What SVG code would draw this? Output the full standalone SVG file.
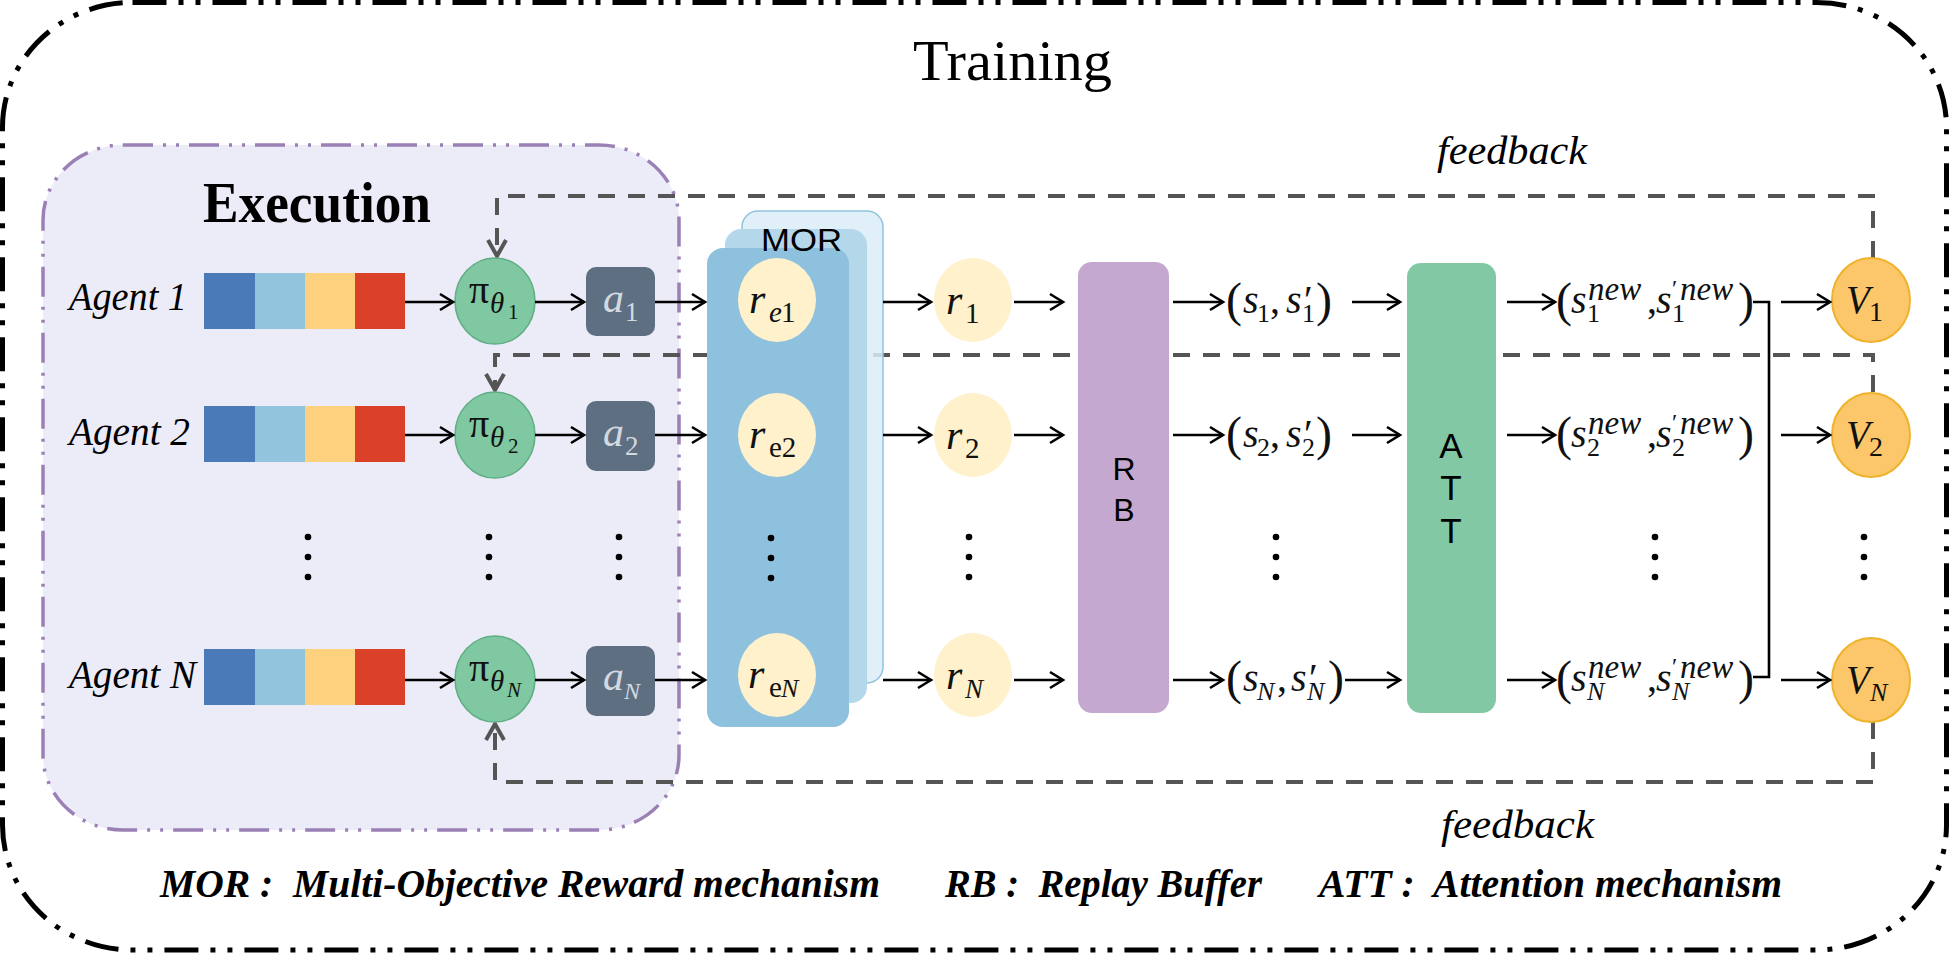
<svg xmlns="http://www.w3.org/2000/svg" width="1949" height="953" viewBox="0 0 1949 953">
<style>
.serif{font-family:"Liberation Serif","Times New Roman",serif;}
.sans{font-family:"Liberation Sans",Arial,sans-serif;}
.it{font-style:italic;}
.up{font-style:normal;}
.bi{font-style:italic;font-weight:bold;}
.m{font-family:"Liberation Serif","Times New Roman",serif;fill:#111;}
.ar{fill:none;stroke:#000;stroke-width:2.6;marker-end:url(#ah);}
.fb{fill:none;stroke:#555;stroke-width:4;stroke-dasharray:17 13;marker-end:url(#gh);}
.dot{fill:#000;}
</style>
<defs>
<marker id="ah" viewBox="-16 -10 20 20" refX="0" refY="0" markerWidth="20" markerHeight="20" markerUnits="userSpaceOnUse" orient="auto">
<path d="M-13,-8 L0,0 L-13,8" fill="none" stroke="#000" stroke-width="2.6"/>
</marker>
<marker id="gh" viewBox="-20 -12 24 24" refX="0" refY="0" markerWidth="24" markerHeight="24" markerUnits="userSpaceOnUse" orient="auto">
<path d="M-16,-9 L0,0 L-16,9" fill="none" stroke="#555" stroke-width="4"/>
</marker>
</defs>
<rect width="1949" height="953" fill="#fff"/>

<g id="training">
<rect x="2.5" y="2.5" width="1944" height="947.5" rx="130" ry="125" fill="none" stroke="#000" stroke-width="5" stroke-dasharray="34 12 5 12 5 12"/>
<text x="913" y="80" class="serif" font-size="57" textLength="199" lengthAdjust="spacingAndGlyphs">Training</text>
</g>

<g id="execution">
<rect x="43" y="145" width="636" height="685" rx="80" ry="75" fill="#ECEBF8" stroke="#9B80B6" stroke-width="3.5" stroke-dasharray="30 10 3 10 3 10"/>
<text x="203" y="222" class="serif" font-weight="bold" font-size="57" textLength="228" lengthAdjust="spacingAndGlyphs">Execution</text>
</g>

<g id="feedback-lines">
<path class="fb" d="M1873,258 V196 H497 V256"/>
<path class="fb" d="M1873,392 V355 H495 V390"/>
<path class="fb" d="M1873,722 V782 H495 V724"/>
<text x="1437" y="164" class="serif it" font-size="40" textLength="150" lengthAdjust="spacingAndGlyphs">feedback</text>
<text x="1441" y="838" class="serif it" font-size="40" textLength="153" lengthAdjust="spacingAndGlyphs">feedback</text>
</g>

<g id="agents">
<text x="69" y="310" class="serif it" font-size="39" textLength="118" lengthAdjust="spacingAndGlyphs">Agent 1</text>
<text x="69" y="445" class="serif it" font-size="39" textLength="121" lengthAdjust="spacingAndGlyphs">Agent 2</text>
<text x="69" y="688" class="serif it" font-size="39" textLength="127" lengthAdjust="spacingAndGlyphs">Agent N</text>
</g>

<g id="obs-1">
<rect x="204" y="273" width="51" height="56" fill="#4A7AB7"/><rect x="255" y="273" width="50" height="56" fill="#92C4DE"/><rect x="305" y="273" width="50" height="56" fill="#FDD17E"/><rect x="355" y="273" width="50" height="56" fill="#DB4128"/>
</g>
<g id="obs-2">
<rect x="204" y="406" width="51" height="56" fill="#4A7AB7"/><rect x="255" y="406" width="50" height="56" fill="#92C4DE"/><rect x="305" y="406" width="50" height="56" fill="#FDD17E"/><rect x="355" y="406" width="50" height="56" fill="#DB4128"/>
</g>
<g id="obs-N">
<rect x="204" y="649" width="51" height="56" fill="#4A7AB7"/><rect x="255" y="649" width="50" height="56" fill="#92C4DE"/><rect x="305" y="649" width="50" height="56" fill="#FDD17E"/><rect x="355" y="649" width="50" height="56" fill="#DB4128"/>
</g>

<g id="pi-1">
<ellipse cx="495" cy="301" rx="40" ry="43" fill="#80C8A1" stroke="#5FAE85" stroke-width="1.5"/>
<text class="m" font-size="40" x="469" y="303">π<tspan class="it" font-size="29" x="490" y="313">θ</tspan><tspan font-size="21" x="508" y="319">1</tspan></text>
</g>
<g id="pi-2">
<ellipse cx="495" cy="435" rx="40" ry="43" fill="#80C8A1" stroke="#5FAE85" stroke-width="1.5"/>
<text class="m" font-size="40" x="469" y="437">π<tspan class="it" font-size="29" x="490" y="447">θ</tspan><tspan font-size="21" x="508" y="453">2</tspan></text>
</g>
<g id="pi-N">
<ellipse cx="495" cy="679" rx="40" ry="43" fill="#80C8A1" stroke="#5FAE85" stroke-width="1.5"/>
<text class="m" font-size="40" x="469" y="681">π<tspan class="it" font-size="29" x="490" y="691">θ</tspan><tspan class="it" font-size="21" x="507" y="697">N</tspan></text>
</g>

<g id="a-1">
<rect x="586" y="267" width="69" height="69" rx="10" fill="#5E6F82"/>
<text class="m it" font-size="42" x="603" y="312" style="fill:#D3D9E0">a<tspan class="up" font-size="27" x="625" y="321">1</tspan></text>
</g>
<g id="a-2">
<rect x="586" y="401" width="69" height="70" rx="10" fill="#5E6F82"/>
<text class="m it" font-size="42" x="603" y="446" style="fill:#D3D9E0">a<tspan class="up" font-size="27" x="625" y="455">2</tspan></text>
</g>
<g id="a-N">
<rect x="586" y="646" width="69" height="70" rx="10" fill="#5E6F82"/>
<text class="m it" font-size="42" x="603" y="690" style="fill:#D3D9E0">a<tspan font-size="24" x="624" y="699">N</tspan></text>
</g>

<g id="mor">
<rect x="742" y="211" width="141" height="472" rx="16" fill="#DCEDF7" fill-opacity="0.85" stroke="#8FC2DE" stroke-width="1.5"/>
<rect x="725" y="229" width="142" height="474" rx="16" fill="#B4D7EA"/>
<rect x="707" y="248" width="142" height="479" rx="16" fill="#8EC1DD"/>
<text x="761" y="251" class="sans" font-size="32" textLength="81" lengthAdjust="spacingAndGlyphs">MOR</text>
<ellipse cx="777" cy="300" rx="39" ry="42" fill="#FEF1CB"/>
<ellipse cx="777" cy="435" rx="39" ry="42" fill="#FEF1CB"/>
<ellipse cx="777" cy="675" rx="39" ry="42" fill="#FEF1CB"/>
<text class="m it" font-size="42" x="749" y="313">r<tspan font-size="29" x="769" y="322">e</tspan><tspan class="up" font-size="29" x="781" y="322">1</tspan></text>
<text class="m it" font-size="42" x="749" y="448">r<tspan class="up" font-size="29" x="769" y="457">e2</tspan></text>
<text class="m it" font-size="42" x="748" y="688">r<tspan class="up" font-size="29" x="769" y="697">e</tspan><tspan font-size="26" x="781" y="697">N</tspan></text>
</g>

<g id="r-1">
<ellipse cx="973" cy="300" rx="39" ry="42" fill="#FEF1CB"/>
<text class="m it" font-size="42" x="946" y="314">r<tspan class="up" font-size="29" x="965" y="323">1</tspan></text>
</g>
<g id="r-2">
<ellipse cx="973" cy="435" rx="39" ry="42" fill="#FEF1CB"/>
<text class="m it" font-size="42" x="946" y="449">r<tspan class="up" font-size="29" x="965" y="458">2</tspan></text>
</g>
<g id="r-N">
<ellipse cx="973" cy="675" rx="39" ry="42" fill="#FEF1CB"/>
<text class="m it" font-size="42" x="946" y="689">r<tspan font-size="27" x="965" y="698">N</tspan></text>
</g>

<g id="rb">
<rect x="1078" y="262" width="91" height="451" rx="14" fill="#C4A8CF"/>
<text x="1124" y="480" class="sans" font-size="32" text-anchor="middle">R<tspan x="1124" y="521">B</tspan></text>
</g>

<g id="s-1">
<text class="m" font-size="48" x="1226" y="316">(<tspan class="it" font-size="40" x="1243" y="313">s</tspan><tspan font-size="26" x="1257" y="322">1</tspan><tspan font-size="40" x="1270" y="313">,</tspan><tspan class="it" font-size="40" x="1286" y="313">s′</tspan><tspan font-size="26" x="1302" y="322">1</tspan><tspan x="1316" y="316">)</tspan></text>
</g>
<g id="s-2">
<text class="m" font-size="48" x="1226" y="450">(<tspan class="it" font-size="40" x="1243" y="447">s</tspan><tspan font-size="26" x="1257" y="456">2</tspan><tspan font-size="40" x="1270" y="447">,</tspan><tspan class="it" font-size="40" x="1286" y="447">s′</tspan><tspan font-size="26" x="1302" y="456">2</tspan><tspan x="1316" y="450">)</tspan></text>
</g>
<g id="s-N">
<text class="m" font-size="48" x="1226" y="694">(<tspan class="it" font-size="40" x="1243" y="691">s</tspan><tspan class="it" font-size="26" x="1257" y="700">N</tspan><tspan font-size="40" x="1277" y="691">,</tspan><tspan class="it" font-size="40" x="1291" y="691">s′</tspan><tspan class="it" font-size="26" x="1307" y="700">N</tspan><tspan x="1328" y="694">)</tspan></text>
</g>

<g id="att">
<rect x="1407" y="263" width="89" height="450" rx="14" fill="#83C8A4"/>
<text x="1451" y="458" class="sans" font-size="35" text-anchor="middle">A<tspan x="1451" y="500">T</tspan><tspan x="1451" y="543">T</tspan></text>
</g>

<g id="snew-1">
<text class="m" font-size="48" x="1556" y="316">(<tspan class="it" font-size="40" x="1571" y="313">s</tspan><tspan class="it" font-size="33" x="1588" y="300">new</tspan><tspan font-size="26" x="1587" y="322">1</tspan><tspan font-size="40" x="1647" y="313">,</tspan><tspan class="it" font-size="40" x="1656" y="313">s</tspan><tspan font-size="24" x="1672" y="296">′</tspan><tspan class="it" font-size="33" x="1680" y="300">new</tspan><tspan font-size="26" x="1672" y="322">1</tspan><tspan x="1738" y="316">)</tspan></text>
</g>
<g id="snew-2">
<text class="m" font-size="48" x="1556" y="450">(<tspan class="it" font-size="40" x="1571" y="447">s</tspan><tspan class="it" font-size="33" x="1588" y="434">new</tspan><tspan font-size="26" x="1587" y="456">2</tspan><tspan font-size="40" x="1647" y="447">,</tspan><tspan class="it" font-size="40" x="1656" y="447">s</tspan><tspan font-size="24" x="1672" y="430">′</tspan><tspan class="it" font-size="33" x="1680" y="434">new</tspan><tspan font-size="26" x="1672" y="456">2</tspan><tspan x="1738" y="450">)</tspan></text>
</g>
<g id="snew-N">
<text class="m" font-size="48" x="1556" y="694">(<tspan class="it" font-size="40" x="1571" y="691">s</tspan><tspan class="it" font-size="33" x="1588" y="678">new</tspan><tspan class="it" font-size="26" x="1587" y="700">N</tspan><tspan font-size="40" x="1647" y="691">,</tspan><tspan class="it" font-size="40" x="1656" y="691">s</tspan><tspan font-size="24" x="1672" y="674">′</tspan><tspan class="it" font-size="33" x="1680" y="678">new</tspan><tspan class="it" font-size="26" x="1672" y="700">N</tspan><tspan x="1738" y="694">)</tspan></text>
</g>

<g id="v-1">
<ellipse cx="1871" cy="300" rx="39" ry="42" fill="#FCC76A" stroke="#EEB32A" stroke-width="2"/>
<text class="m it" font-size="39" x="1846" y="313">V<tspan class="up" font-size="28" x="1869" y="321">1</tspan></text>
</g>
<g id="v-2">
<ellipse cx="1871" cy="435" rx="39" ry="42" fill="#FCC76A" stroke="#EEB32A" stroke-width="2"/>
<text class="m it" font-size="39" x="1846" y="448">V<tspan class="up" font-size="28" x="1869" y="456">2</tspan></text>
</g>
<g id="v-N">
<ellipse cx="1871" cy="680" rx="39" ry="42" fill="#FCC76A" stroke="#EEB32A" stroke-width="2"/>
<text class="m it" font-size="39" x="1846" y="693">V<tspan font-size="26" x="1870" y="701">N</tspan></text>
</g>

<g id="connectors">
<path class="ar" d="M405,302 H453"/>
<path class="ar" d="M535,302 H584"/>
<path class="ar" d="M655,302 H705"/>
<path class="ar" d="M883,302 H931"/>
<path class="ar" d="M1014,302 H1063"/>
<path class="ar" d="M1173,302 H1223"/>
<path class="ar" d="M1352,302 H1400"/>
<path class="ar" d="M1507,302 H1555"/>
<path class="ar" d="M1781,302 H1830"/>

<path class="ar" d="M405,435 H453"/>
<path class="ar" d="M535,435 H584"/>
<path class="ar" d="M655,435 H705"/>
<path class="ar" d="M883,435 H931"/>
<path class="ar" d="M1014,435 H1063"/>
<path class="ar" d="M1173,435 H1223"/>
<path class="ar" d="M1352,435 H1400"/>
<path class="ar" d="M1507,435 H1555"/>
<path class="ar" d="M1781,435 H1830"/>

<path class="ar" d="M405,680 H453"/>
<path class="ar" d="M535,680 H584"/>
<path class="ar" d="M655,680 H705"/>
<path class="ar" d="M883,680 H931"/>
<path class="ar" d="M1014,680 H1063"/>
<path class="ar" d="M1173,680 H1223"/>
<path class="ar" d="M1345,680 H1400"/>
<path class="ar" d="M1507,680 H1555"/>
<path class="ar" d="M1781,680 H1830"/>

<path d="M1753,302 H1769 V677 H1753" fill="none" stroke="#000" stroke-width="2.6"/>
</g>

<g id="ellipsis">
<circle class="dot" cx="308" cy="537" r="3.3"/><circle class="dot" cx="308" cy="557" r="3.3"/><circle class="dot" cx="308" cy="577" r="3.3"/>
<circle class="dot" cx="489" cy="537" r="3.3"/><circle class="dot" cx="489" cy="557" r="3.3"/><circle class="dot" cx="489" cy="577" r="3.3"/>
<circle class="dot" cx="619" cy="537" r="3.3"/><circle class="dot" cx="619" cy="557" r="3.3"/><circle class="dot" cx="619" cy="577" r="3.3"/>
<circle class="dot" cx="771" cy="538" r="3.3"/><circle class="dot" cx="771" cy="558" r="3.3"/><circle class="dot" cx="771" cy="578" r="3.3"/>
<circle class="dot" cx="969" cy="537" r="3.3"/><circle class="dot" cx="969" cy="557" r="3.3"/><circle class="dot" cx="969" cy="577" r="3.3"/>
<circle class="dot" cx="1276" cy="537" r="3.3"/><circle class="dot" cx="1276" cy="557" r="3.3"/><circle class="dot" cx="1276" cy="577" r="3.3"/>
<circle class="dot" cx="1655" cy="537" r="3.3"/><circle class="dot" cx="1655" cy="557" r="3.3"/><circle class="dot" cx="1655" cy="577" r="3.3"/>
<circle class="dot" cx="1864" cy="537" r="3.3"/><circle class="dot" cx="1864" cy="557" r="3.3"/><circle class="dot" cx="1864" cy="577" r="3.3"/>
</g>

<g id="legend">
<text x="160" y="897" class="serif bi" font-size="41" xml:space="preserve" textLength="720" lengthAdjust="spacingAndGlyphs">MOR :  Multi-Objective Reward mechanism</text>
<text x="945" y="897" class="serif bi" font-size="41" xml:space="preserve" textLength="317" lengthAdjust="spacingAndGlyphs">RB :  Replay Buffer</text>
<text x="1319" y="897" class="serif bi" font-size="41" xml:space="preserve" textLength="463" lengthAdjust="spacingAndGlyphs">ATT :  Attention mechanism</text>
</g>
</svg>
